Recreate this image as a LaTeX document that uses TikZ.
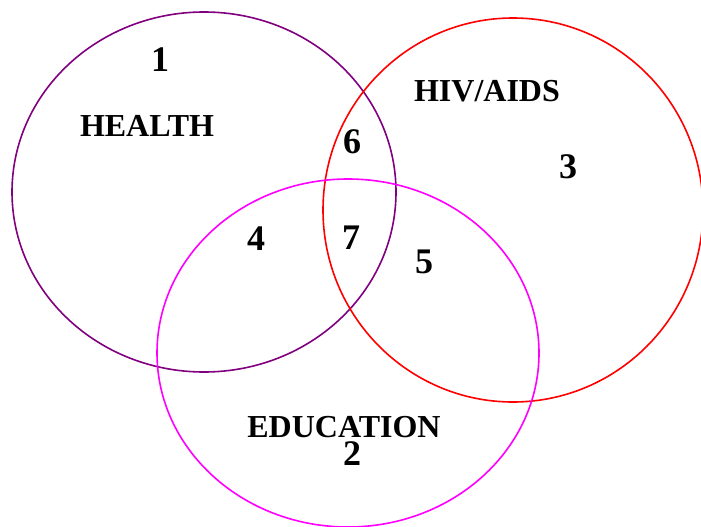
\documentclass[tikz,border=0pt]{standalone}
\usepackage{fontspec}
\setmainfont{Liberation Serif}
\usetikzlibrary{shapes.geometric}
\definecolor{healthc}{HTML}{800080}
\definecolor{hivc}{HTML}{FF0000}
\definecolor{educ}{HTML}{FF00FF}

\begin{document}
\begin{tikzpicture}[x=1pt,y=-1pt,every node/.style={font=\bfseries\fontsize{32}{38}\selectfont},
  set/.style={draw,ellipse,line width=1.6pt,inner sep=0pt},
  lbl/.style={anchor=base},
  num/.style={anchor=base,font=\bfseries\fontsize{36}{40}\selectfont}]
\useasboundingbox (0,0) rectangle (701,527);
% the three sets
\node[set,draw=healthc,minimum width=384pt,minimum height=360pt](health) at (204,192){};
\node[set,draw=hivc,minimum width=380pt,minimum height=384pt](hiv) at (513,210){};
\node[set,draw=educ,minimum width=382pt,minimum height=348pt](edu) at (348,353){};
% set names
\node[lbl](healthl) at (147,136){HEALTH};
\node[lbl](hivl) at (487,101){HIV/AIDS};
\node[lbl](edul) at (344,437){EDUCATION};
% regions
\node[num](r1) at (160,71){1};
\node[num](r2) at (352,465){2};
\node[num](r3) at (568,178){3};
\node[num](r4) at (256,250){4};
\node[num](r5) at (424,273){5};
\node[num](r6) at (352,153){6};
\node[num](r7) at (351,249){7};
\end{tikzpicture}
\end{document}
